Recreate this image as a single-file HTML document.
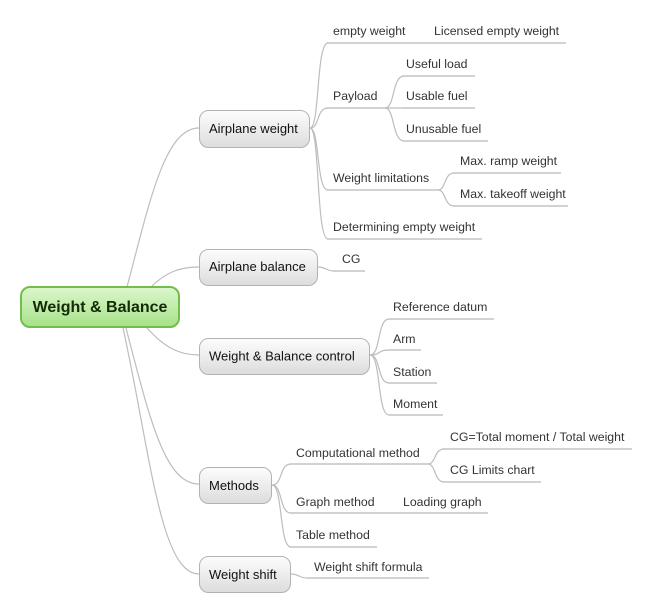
<!DOCTYPE html>
<html>
<head>
<meta charset="utf-8">
<style>
  html,body{margin:0;padding:0;background:#fff;}
  svg{display:block;}
  .c{fill:none;stroke:#bdbdbd;stroke-width:1.2;}
  .u{fill:none;stroke:#c4c4c4;stroke-width:1.4;}
  .t{font-family:"Liberation Sans",Arial,sans-serif;font-size:12.3px;fill:#333;}
  .b{font-family:"Liberation Sans",Arial,sans-serif;font-size:13px;fill:#111;}
</style>
</head>
<body>
<svg width="651" height="613" viewBox="0 0 651 613" xmlns="http://www.w3.org/2000/svg">
  <defs>
    <linearGradient id="gg" x1="0" y1="0" x2="0" y2="1">
      <stop offset="0" stop-color="#dcf6cd"/>
      <stop offset="1" stop-color="#a6e287"/>
    </linearGradient>
    <linearGradient id="gr" x1="0" y1="0" x2="0" y2="1">
      <stop offset="0" stop-color="#fdfdfd"/>
      <stop offset="1" stop-color="#dcdcdc"/>
    </linearGradient>
  </defs>

  <!-- root connectors -->
  <path class="c" d="M127,287 C150,200 165,128 199,128"/>
  <path class="c" d="M151,287 C166,272 180,267 199,267"/>
  <path class="c" d="M147,328 C165,348 180,355 199,355"/>
  <path class="c" d="M126,328 C150,420 165,484 199,484"/>
  <path class="c" d="M123,328 C150,450 160,574 199,574"/>

  <!-- Airplane weight connectors -->
  <path class="c" d="M310,128 C320,128 316,43 328,43"/>
  <path class="c" d="M310,128 C320,128 316,108 328,108"/>
  <path class="c" d="M310,128 C320,128 316,190 328,190"/>
  <path class="c" d="M310,128 C320,128 316,239 328,239"/>
  <!-- Payload children -->
  <path class="c" d="M385,108 C395,108 392,76 404,76"/>
  <path class="c" d="M385,108 L404,108"/>
  <path class="c" d="M385,108 C395,108 392,141 404,141"/>
  <!-- Weight limitations children -->
  <path class="c" d="M438,190 C446,190 444,173 454,173"/>
  <path class="c" d="M438,190 C446,190 444,206 454,206"/>
  <!-- Airplane balance -->
  <path class="c" d="M318,267 C326,267 326,271 334,271"/>
  <!-- W&B control -->
  <path class="c" d="M370,355 C381,355 377,319 389,319"/>
  <path class="c" d="M370,355 C381,355 377,350 389,350"/>
  <path class="c" d="M370,355 C381,355 377,383 389,383"/>
  <path class="c" d="M370,355 C381,355 377,415 389,415"/>
  <!-- Methods -->
  <path class="c" d="M272,485 C283,485 279,464 291,464"/>
  <path class="c" d="M272,485 C283,485 279,513 291,513"/>
  <path class="c" d="M272,485 C283,485 279,547 291,547"/>
  <!-- Computational children -->
  <path class="c" d="M428,464 C436,464 434,449 444,449"/>
  <path class="c" d="M428,464 C436,464 434,482 444,482"/>
  <!-- Weight shift -->
  <path class="c" d="M291,574 C299,574 299,578 307,578"/>

  <!-- underlines -->
  <line class="u" x1="327" y1="43" x2="566" y2="43"/>
  <line class="u" x1="327" y1="108" x2="385" y2="108"/>
  <line class="u" x1="403" y1="76" x2="475" y2="76"/>
  <line class="u" x1="403" y1="108" x2="475" y2="108"/>
  <line class="u" x1="403" y1="141" x2="488" y2="141"/>
  <line class="u" x1="327" y1="190" x2="438" y2="190"/>
  <line class="u" x1="453" y1="173" x2="561" y2="173"/>
  <line class="u" x1="453" y1="206" x2="568" y2="206"/>
  <line class="u" x1="327" y1="239" x2="482" y2="239"/>
  <line class="u" x1="333" y1="271" x2="365" y2="271"/>
  <line class="u" x1="389" y1="319" x2="494" y2="319"/>
  <line class="u" x1="389" y1="350" x2="421" y2="350"/>
  <line class="u" x1="389" y1="383" x2="437" y2="383"/>
  <line class="u" x1="389" y1="415" x2="443" y2="415"/>
  <line class="u" x1="290" y1="464" x2="428" y2="464"/>
  <line class="u" x1="443" y1="449" x2="632" y2="449"/>
  <line class="u" x1="443" y1="482" x2="541" y2="482"/>
  <line class="u" x1="290" y1="513" x2="488" y2="513"/>
  <line class="u" x1="290" y1="547" x2="377" y2="547"/>
  <line class="u" x1="307" y1="578" x2="429" y2="578"/>

  <!-- root -->
  <rect x="21" y="287" width="158" height="40" rx="9" ry="9" fill="url(#gg)" stroke="#72be4b" stroke-width="2"/>
  <text x="100" y="312" text-anchor="middle" font-family="'Liberation Sans',Arial,sans-serif" font-size="16" font-weight="bold" fill="#122a06">Weight &amp; Balance</text>

  <!-- main boxes -->
  <rect x="199.5" y="110.5" width="110" height="37" rx="9" fill="url(#gr)" stroke="#b2b2b2"/>
  <text class="b" x="209" y="133">Airplane weight</text>
  <rect x="199.5" y="249.5" width="118" height="36" rx="9" fill="url(#gr)" stroke="#b2b2b2"/>
  <text class="b" x="209" y="271">Airplane balance</text>
  <rect x="199.5" y="338.5" width="170" height="36" rx="9" fill="url(#gr)" stroke="#b2b2b2"/>
  <text class="b" x="209" y="360.5">Weight &amp; Balance control</text>
  <rect x="199.5" y="467.5" width="72" height="36" rx="9" fill="url(#gr)" stroke="#b2b2b2"/>
  <text class="b" x="209" y="490">Methods</text>
  <rect x="199.5" y="556.5" width="91" height="36" rx="9" fill="url(#gr)" stroke="#b2b2b2"/>
  <text class="b" x="209" y="579">Weight shift</text>

  <!-- leaf labels -->
  <text class="t" x="333" y="35">empty weight</text>
  <text class="t" x="434" y="35">Licensed empty weight</text>
  <text class="t" x="333" y="100">Payload</text>
  <text class="t" x="406" y="68">Useful load</text>
  <text class="t" x="406" y="100">Usable fuel</text>
  <text class="t" x="406" y="133">Unusable fuel</text>
  <text class="t" x="333" y="182">Weight limitations</text>
  <text class="t" x="460" y="165">Max. ramp weight</text>
  <text class="t" x="460" y="198">Max. takeoff weight</text>
  <text class="t" x="333" y="231">Determining empty weight</text>
  <text class="t" x="342" y="263">CG</text>
  <text class="t" x="393" y="311">Reference datum</text>
  <text class="t" x="393" y="343">Arm</text>
  <text class="t" x="393" y="376">Station</text>
  <text class="t" x="393" y="408">Moment</text>
  <text class="t" x="296" y="457">Computational method</text>
  <text class="t" x="450" y="441">CG=Total moment / Total weight</text>
  <text class="t" x="450" y="474">CG Limits chart</text>
  <text class="t" x="296" y="506">Graph method</text>
  <text class="t" x="403" y="506">Loading graph</text>
  <text class="t" x="296" y="539">Table method</text>
  <text class="t" x="314" y="571">Weight shift formula</text>
</svg>
</body>
</html>
